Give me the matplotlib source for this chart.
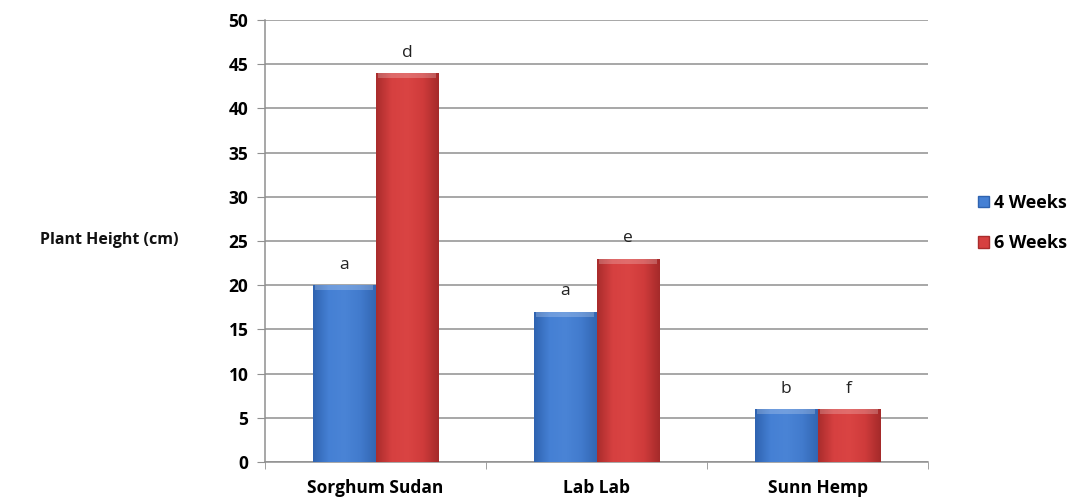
import matplotlib
matplotlib.use("Agg")
import matplotlib.pyplot as plt
import numpy as np
from matplotlib.colors import LinearSegmentedColormap
from matplotlib.patches import Patch

categories = ["Sorghum Sudan", "Lab Lab", "Sunn Hemp"]
weeks4 = [20, 17, 6]
weeks6 = [44, 23, 6]
letters4 = ["a", "a", "b"]
letters6 = ["d", "e", "f"]
series_names = ["4 Weeks", "6 Weeks"]

plt.rcParams['font.family'] = ['Open Sans', 'DejaVu Sans']

fig = plt.figure(figsize=(10.77, 5.04), dpi=100)
ax = fig.add_axes([265/1077, 1-462/504, (928-265)/1077, (462-20)/504])

x = np.arange(len(categories))
w = 0.285
blue_cmap = LinearSegmentedColormap.from_list("b", ["#2f63b0", "#4580d4", "#4a84d6", "#427bcd", "#3266b2"])
red_cmap = LinearSegmentedColormap.from_list("r", ["#a92c2c", "#d64040", "#da4443", "#cf3b3b", "#a42a2a"])

grad = np.linspace(0, 1, 256).reshape(1, -1)
for vals, offs, cmap in [(weeks4, -w/2, blue_cmap), (weeks6, w/2, red_cmap)]:
    bars = ax.bar(x + offs, vals, width=w, color="none", edgecolor="none", zorder=3)
    for b in bars:
        x0, y0 = b.get_x(), b.get_y()
        bw, bh = b.get_width(), b.get_height()
        im = ax.imshow(grad, cmap=cmap, aspect="auto", extent=[x0, x0 + bw, y0, y0 + bh],
                       zorder=3, interpolation="bicubic")
        im.set_clip_path(b)
        ax.fill_between([x0 + 0.012, x0 + bw - 0.012], y0 + bh - 0.55, y0 + bh,
                        color="white", alpha=0.22, zorder=4, linewidth=0)

for xi, v, t in zip(x - w/2, weeks4, letters4):
    ax.text(xi, v + 1.4, t, ha="center", va="bottom", fontsize=12.5, color="#222222")
for xi, v, t in zip(x + w/2, weeks6, letters6):
    ax.text(xi, v + 1.4, t, ha="center", va="bottom", fontsize=12.5, color="#222222")

ax.set_xlim(-0.5, len(categories) - 0.5)
ax.set_ylim(0, 50)
ax.set_yticks(np.arange(0, 51, 5))
ax.yaxis.grid(True, color="#909090", linewidth=1.1, zorder=0)
ax.set_axisbelow(True)
ax.set_xticks(x)
ax.set_xticklabels(categories, fontsize=12.5, fontweight="bold")
ax.set_xticks(np.arange(-0.5, len(categories), 1), minor=True)
ax.tick_params(axis="x", which="major", length=0, pad=12)
ax.tick_params(axis="x", which="minor", length=5, color="#909090")
ax.tick_params(axis="y", length=6, color="#909090", labelsize=12.5, pad=6)
for lab in ax.get_yticklabels():
    lab.set_fontweight("bold")
for s in ["top", "right"]:
    ax.spines[s].set_visible(False)
for s in ["left", "bottom"]:
    ax.spines[s].set_color("#909090")
    ax.spines[s].set_linewidth(1.1)

fig.text(40/1077, 1-240/504, "Plant Height (cm)", fontsize=11.5, fontweight="bold",
         ha="left", va="center", color="#111111")

handles = [Patch(facecolor="#4580d4", edgecolor="#2f63b0"), Patch(facecolor="#d64040", edgecolor="#a92c2c")]
leg = fig.legend(handles, series_names, loc="center left", bbox_to_anchor=(962/1077, 1-223/504),
                 frameon=False, prop={"weight": "bold", "size": 13}, handlelength=0.6,
                 handleheight=0.6, handletextpad=0.3, labelspacing=1.25)

fig.savefig("out.png", dpi=100, facecolor="white")
